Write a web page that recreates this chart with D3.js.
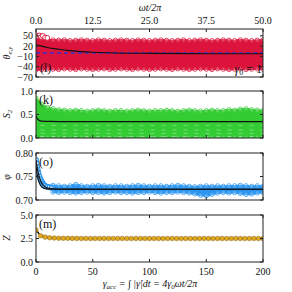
<!DOCTYPE html>
<html>
<head>
<meta charset="utf-8">
<script src="https://cdn.jsdelivr.net/npm/d3@7"></script>
<style>
  body { margin: 0; background: #fff; }
  text { font-family: "Liberation Serif", "DejaVu Serif", serif; fill: #111; }
</style>
</head>
<body>
<div id="vis"></div>
<script>
// ---- data ----
const gammaTicks = [0, 50, 100, 150, 200];
const cycleTicks = ["0.0", "12.5", "25.0", "37.5", "50.0"];

// sample positions (gamma_acc) for the scatter envelopes
const envG = [0, 5, 10, 15, 20, 25, 30, 35, 40, 45, 50, 55, 60, 65, 70, 75, 80, 85, 90, 95, 100,
  105, 110, 115, 120, 125, 130, 135, 140, 145, 150, 155, 160, 165, 170, 175, 180, 185, 190, 195, 200];

// (l) theta_e,y
const thetaUpper = [46, 42, 39, 38, 37, 38, 36, 37, 38, 37, 36, 38, 37, 36, 37, 38, 37, 36, 38, 37, 36,
  37, 38, 37, 36, 37, 38, 36, 37, 38, 37, 36, 37, 38, 37, 36, 38, 37, 36, 37, 38];
const thetaLower = [-50, -48, -46, -47, -48, -46, -47, -48, -46, -47, -48, -47, -46, -48, -47, -46, -47, -48, -46, -47, -48,
  -47, -46, -47, -48, -46, -47, -48, -47, -46, -47, -48, -46, -47, -48, -47, -46, -48, -47, -46, -47];
const thetaEarlyG = [0, 1.5, 3, 4.5, 6, 8, 10];
const thetaEarly = [52, 49, 51, 47, 50, 45, 44];
const thetaLineG = [0, 5, 10, 20, 30, 40, 50, 70, 100, 150, 200];
const thetaLine = [24, 20, 16, 11, 7, 4, 2, 0, -1, -2, -2];
const thetaRef = 0;

// (k) S2
const s2Upper = [0.85, 0.72, 0.65, 0.62, 0.6, 0.59, 0.58, 0.59, 0.58, 0.57, 0.58, 0.59, 0.58, 0.57, 0.58, 0.58, 0.57, 0.58, 0.59, 0.58, 0.57,
  0.58, 0.58, 0.59, 0.58, 0.57, 0.58, 0.59, 0.58, 0.57, 0.58, 0.59, 0.58, 0.58, 0.6, 0.59, 0.61, 0.62, 0.6, 0.59, 0.58];
const s2Lower = 0.01;
const s2Gaps = [0.27, 0.17, 0.1, 0.03];
const s2LineG = [0, 1, 2, 3, 5, 8, 12, 20, 50, 100, 150, 200];
const s2Line = [0.46, 0.42, 0.39, 0.37, 0.36, 0.355, 0.352, 0.35, 0.35, 0.35, 0.35, 0.35];

// (o) phi
const phiEarlyG = [0, 0.5, 1, 1.5, 2, 3, 4, 5, 6, 7, 8, 10, 12, 14];
const phiEarly = [0.785, 0.778, 0.77, 0.764, 0.758, 0.75, 0.744, 0.739, 0.735, 0.732, 0.73, 0.728, 0.727, 0.726];
const phiBandG = envG.slice(3);
const phiUpper = [0.731, 0.73, 0.729, 0.73, 0.733, 0.73, 0.729, 0.73, 0.731, 0.73, 0.729, 0.73, 0.73, 0.729, 0.73, 0.731, 0.73, 0.729, 0.73,
  0.73, 0.729, 0.73, 0.731, 0.73, 0.729, 0.728, 0.729, 0.73, 0.729, 0.73, 0.729, 0.73, 0.73, 0.731, 0.73, 0.729, 0.73, 0.729];
const phiLower = [0.717, 0.716, 0.717, 0.716, 0.715, 0.716, 0.717, 0.716, 0.716, 0.715, 0.716, 0.717, 0.716, 0.716, 0.715, 0.716, 0.716, 0.717, 0.716,
  0.715, 0.716, 0.716, 0.717, 0.716, 0.715, 0.713, 0.71, 0.709, 0.712, 0.715, 0.716, 0.715, 0.716, 0.714, 0.712, 0.713, 0.715, 0.716];
const phiLineG = [0, 1, 2, 3, 4, 6, 8, 10, 12, 15, 20, 30, 50, 100, 200];
const phiLineA = [0.785, 0.77, 0.758, 0.748, 0.741, 0.733, 0.728, 0.726, 0.725, 0.724, 0.7235, 0.7232, 0.723, 0.723, 0.723];
const phiLineB = [0.775, 0.755, 0.743, 0.736, 0.731, 0.726, 0.724, 0.7235, 0.7232, 0.723, 0.723, 0.723, 0.723, 0.723, 0.723];

// (m) Z
const zG = [0, 4, 8, 12, 16, 20, 24, 28, 32, 36, 40, 44, 48, 52, 56, 60, 64, 68, 72, 76, 80, 84, 88, 92, 96, 100,
  104, 108, 112, 116, 120, 124, 128, 132, 136, 140, 144, 148, 152, 156, 160, 164, 168, 172, 176, 180, 184, 188, 192, 196, 200];
const zVals = [3.4, 2.8, 2.65, 2.58, 2.55, 2.53, 2.52, 2.52, 2.51, 2.51, 2.5, 2.5, 2.5, 2.5, 2.5, 2.5, 2.5, 2.5, 2.5, 2.5, 2.5, 2.5, 2.5, 2.5, 2.5, 2.5,
  2.5, 2.5, 2.5, 2.5, 2.5, 2.5, 2.5, 2.5, 2.5, 2.5, 2.5, 2.5, 2.5, 2.5, 2.5, 2.5, 2.5, 2.5, 2.5, 2.5, 2.5, 2.5, 2.5, 2.5, 2.5];
const zLineG = [0, 2, 4, 6, 8, 10, 15, 20, 30, 50, 100, 200];
const zLine = [3.5, 3.1, 2.85, 2.72, 2.65, 2.6, 2.55, 2.53, 2.51, 2.5, 2.5, 2.5];

// ---- layout ----
const width = 292, height = 292;
const left = 36, right = 263;
const panels = [
  { top: 29, bottom: 77, domain: [-70, 70], ticks: [-70, -40, -10, 20, 50], fmt: d => d3.format("d")(d).replace("-", "\u2212") },
  { top: 91, bottom: 138, domain: [0, 1], ticks: [0, 0.5, 1], fmt: d3.format(".1f") },
  { top: 153, bottom: 200, domain: [0.7, 0.8], ticks: [0.7, 0.75, 0.8], fmt: d3.format(".2f") },
  { top: 215, bottom: 262, domain: [0, 5], ticks: [0, 2.5, 5], fmt: d3.format(".1f") },
];

const svg = d3.select("#vis").append("svg")
  .attr("width", width)
  .attr("height", height);

const x = d3.scaleLinear().domain([0, 200]).range([left, right]);
const xTop = d3.scaleLinear().domain([0, 50]).range([left, right]);

panels.forEach((p, i) => {
  p.y = d3.scaleLinear().domain(p.domain).range([p.bottom, p.top]);
  p.g = svg.append("g");
  svg.append("clipPath").attr("id", "clip" + i)
    .append("rect").attr("x", left).attr("y", p.top).attr("width", right - left).attr("height", p.bottom - p.top);
  p.plot = p.g.append("g").attr("clip-path", `url(#clip${i})`);
});

// cloud helper: filled envelope plus open circles along its edges
function cloud(p, gs, upper, lower, color) {
  const lo = i => Array.isArray(lower) ? lower[i] : lower;
  const area = d3.area()
    .x((d, i) => x(gs[i]))
    .y0((d, i) => p.y(lo(i)))
    .y1((d, i) => p.y(upper[i]))
    .curve(d3.curveMonotoneX);
  p.plot.append("path").datum(upper)
    .attr("d", area)
    .attr("fill", color)
    .attr("stroke", color)
    .attr("stroke-width", 2);
  const edge = [];
  gs.forEach((g, i) => {
    edge.push([g, upper[i]]);
    edge.push([g, lo(i)]);
  });
  p.plot.append("g").selectAll("circle").data(edge).join("circle")
    .attr("cx", d => x(d[0]))
    .attr("cy", d => p.y(d[1]))
    .attr("r", 2.2)
    .attr("fill", "#fff")
    .attr("fill-opacity", 0.2)
    .attr("stroke", color)
    .attr("stroke-width", 0.8);
}

function curve(p, gs, vals, color, w) {
  p.plot.append("path").datum(vals)
    .attr("d", d3.line().x((d, i) => x(gs[i])).y(d => p.y(d)).curve(d3.curveMonotoneX))
    .attr("fill", "none")
    .attr("stroke", color)
    .attr("stroke-width", w);
}

// (l) theta
const red = "#dc143c";
cloud(panels[0], envG, thetaUpper, thetaLower, red);
panels[0].plot.append("g").selectAll("circle").data(thetaEarly).join("circle")
  .attr("cx", (d, i) => x(thetaEarlyG[i]))
  .attr("cy", d => panels[0].y(d))
  .attr("r", 2.4)
  .attr("fill", "#fff")
  .attr("stroke", red)
  .attr("stroke-width", 0.9);
panels[0].plot.append("line")
  .attr("x1", left).attr("x2", right)
  .attr("y1", panels[0].y(thetaRef)).attr("y2", panels[0].y(thetaRef))
  .attr("stroke", "#3a2fd0").attr("stroke-width", 1.6).attr("stroke-dasharray", "4,3");
curve(panels[0], thetaLineG, thetaLine, "#111", 1.1);

// (k) S2
const green = "#33cc33";
cloud(panels[1], envG, s2Upper, s2Lower, green);
s2Gaps.forEach(v => {
  panels[1].plot.append("line")
    .attr("x1", x(4)).attr("x2", right)
    .attr("y1", panels[1].y(v)).attr("y2", panels[1].y(v))
    .attr("stroke", "#fff").attr("stroke-opacity", 0.45)
    .attr("stroke-width", 0.8).attr("stroke-dasharray", "4,7");
});
curve(panels[1], s2LineG, s2Line, "#111", 1.3);

// (o) phi
const blue = "#2b95f0";
cloud(panels[2], phiBandG, phiUpper, phiLower, blue);
panels[2].plot.append("g").selectAll("circle").data(phiEarly).join("circle")
  .attr("cx", (d, i) => x(phiEarlyG[i]))
  .attr("cy", d => panels[2].y(d))
  .attr("r", 2.4)
  .attr("fill", "#fff")
  .attr("fill-opacity", 0.3)
  .attr("stroke", blue)
  .attr("stroke-width", 1.2);
curve(panels[2], phiLineG, phiLineA, "#111", 1.1);
curve(panels[2], phiLineG, phiLineB, "#111", 1.1);

// (m) Z
curve(panels[3], zLineG, zLine, "#111", 1.6);
panels[3].plot.append("g").selectAll("circle").data(zVals).join("circle")
  .attr("cx", (d, i) => x(zG[i]))
  .attr("cy", d => panels[3].y(d))
  .attr("r", 2.3)
  .attr("fill", "#e0a820")
  .attr("stroke", "#8a6414")
  .attr("stroke-width", 0.5);

// frames, ticks, labels
panels.forEach((p, i) => {
  const g = p.g;
  g.append("rect")
    .attr("x", left).attr("y", p.top)
    .attr("width", right - left).attr("height", p.bottom - p.top)
    .attr("fill", "none").attr("stroke", "#222").attr("stroke-width", 1);
  p.ticks.forEach(t => {
    const yy = p.y(t);
    g.append("line").attr("x1", left).attr("x2", left + 3).attr("y1", yy).attr("y2", yy).attr("stroke", "#222");
    g.append("line").attr("x1", right - 3).attr("x2", right).attr("y1", yy).attr("y2", yy).attr("stroke", "#222");
    g.append("text").attr("x", left - 3).attr("y", yy + 3.5)
      .attr("text-anchor", "end").attr("font-size", 10).text(p.fmt(t));
  });
  gammaTicks.forEach(t => {
    const xx = x(t);
    g.append("line").attr("x1", xx).attr("x2", xx).attr("y1", p.top).attr("y2", p.top + 3).attr("stroke", "#222");
    g.append("line").attr("x1", xx).attr("x2", xx).attr("y1", p.bottom - 3).attr("y2", p.bottom).attr("stroke", "#222");
  });
});

// top axis labels
cycleTicks.forEach((t, i) => {
  svg.append("text").attr("x", xTop(+t)).attr("y", 24)
    .attr("text-anchor", "middle").attr("font-size", 10).text(t);
});
svg.append("text").attr("x", 150).attr("y", 11).attr("text-anchor", "middle")
  .attr("font-size", 10).attr("font-style", "italic").text("\u03c9t/2\u03c0");

// bottom axis labels
gammaTicks.forEach(t => {
  svg.append("text").attr("x", x(t)).attr("y", 275)
    .attr("text-anchor", "middle").attr("font-size", 10).text(t);
});
const xl = svg.append("text").attr("x", 150).attr("y", 287).attr("text-anchor", "middle")
  .attr("font-size", 10).attr("font-style", "italic");
xl.append("tspan").text("\u03b3");
xl.append("tspan").attr("font-size", 7).attr("dy", 2).text("acc");
xl.append("tspan").attr("dy", -2).text(" = \u222b |\u03b3\u0307|dt = 4\u03b3");
xl.append("tspan").attr("font-size", 7).attr("dy", 2).text("0");
xl.append("tspan").attr("dy", -2).text("\u03c9t/2\u03c0");

// y labels
const ylabels = [
  { main: "\u03b8", sub: "e,y", y: 53 },
  { main: "S", sub: "2", y: 114 },
  { main: "\u03c6", sub: "", y: 177 },
  { main: "Z", sub: "", y: 238 },
];
ylabels.forEach(l => {
  const t = svg.append("text")
    .attr("transform", `translate(10,${l.y}) rotate(-90)`)
    .attr("text-anchor", "middle").attr("font-size", 10).attr("font-style", "italic");
  t.append("tspan").text(l.main);
  if (l.sub) t.append("tspan").attr("font-size", 7).attr("dy", 2).text(l.sub);
});

// panel tags
const tags = [
  { t: "(l)", x: 40, y: 72 },
  { t: "(k)", x: 39, y: 104 },
  { t: "(o)", x: 39, y: 166 },
  { t: "(m)", x: 39, y: 228 },
];
tags.forEach(d => {
  svg.append("text").attr("x", d.x).attr("y", d.y).attr("font-size", 12).text(d.t);
});
const gl = svg.append("text").attr("x", 262).attr("y", 73).attr("text-anchor", "end")
  .attr("font-size", 12).attr("fill", "#333");
gl.append("tspan").attr("font-style", "italic").text("\u03b3");
gl.append("tspan").attr("font-size", 8).attr("dy", 2).text("0");
gl.append("tspan").attr("dy", -2).text(" = 1");
</script>
</body>
</html>
